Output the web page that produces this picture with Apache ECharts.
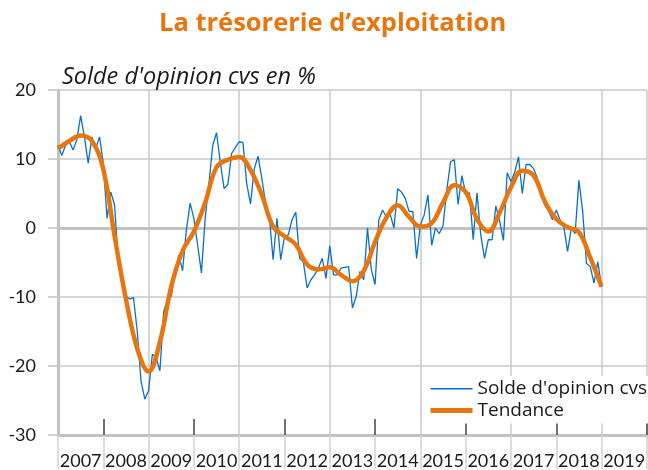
<!DOCTYPE html>
<html lang="fr">
<head>
<meta charset="UTF-8">
<title>La trésorerie d'exploitation</title>
<script src="https://cdn.jsdelivr.net/npm/echarts@6/dist/echarts.min.js"></script>
<style>
    html, body { margin: 0; padding: 0; background: #fff; }
    #chart { width: 648px; height: 470px; }
</style>
</head>
<body>
<div id="chart"></div>
<script>
    // années affichées sous l'axe
    var years = ['2007', '2008', '2009', '2010', '2011', '2012', '2013', '2014', '2015', '2016', '2017', '2018', '2019'];
    var startYear = 2007;

    // solde d'opinion cvs, mensuel (janv. 2007 -> janv. 2019)
    var solde = [
        12, 10.5, 12, 12.5, 11.3, 12.8, 16.3, 13.2, 9.4, 13.2, 11.5, 13.2,
        9.4, 1.4, 5.2, 3.3, -5.3, -7.7, -9.9, -10.3, -10.1, -15, -22.2, -24.8,
        -23.6, -18.3, -18.8, -20.7, -12.1, -10.4, -9.9, -6.5, -3.9, -6.2, -0.3, 3.6,
        1.4, -2.5, -6.5, 1.5, 6.5, 12, 13.8, 9.5, 5.7, 6.3, 10.8, 11.7,
        12.5, 12.4, 6.4, 3.5, 8.6, 10.4, 7.2, 3.6, 1.5, -4.6, 1.4, -4.6,
        -1.3, -1, 1.2, 2.3, -4.4, -4.9, -8.7, -7.5, -6.8, -5.8, -4.4, -7.3,
        -2.6, -6.8, -6.8, -5.8, -5.7, -5.6, -11.6, -9.9, -6.3, -7.5, 0, -6,
        -8.2, 1.2, 2.6, 1.6, 2, 0, 5.7, 5.2, 4.3, 2.4, 2.4, -4.4,
        0.4, 1.9, 4.8, -2.5, 0, -0.8, 0.3, 5.5, 9.6, 9.9, 3.4, 7.6,
        5, 5.1, -1.7, 5.1, -1, -4.4, -1.7, -1.7, 3.2, 1, -1.8, 8,
        6.7, 8.1, 10.3, 5, 9.2, 9.2, 8.6, 7.2, 5, 3.3, 2.4, 1.2,
        2.6, 1.2, 0.2, -3.4, 0, -0.8, 6.9, 2.4, -5.1, -5.6, -8, -4.9, -8.5
    ];

    // tendance, un point par trimestre
    var tendanceStep = 3;
    var tendance = [
        11.5, 12.6, 13.4, 12.6, 8.5, -1.2, -10.3, -17.5, -20.8, -16.5, -8.5, -3.3,
        -0.5, 3.7, 8.8, 9.9, 10.3, 8.4, 4.8, 0.2, -1.2, -2.4, -5.3, -6,
        -5.7, -6.8, -7.7, -6.2, -2, 1.5, 3.3, 1.6, 0.2, 0.7, 3.7, 6.2,
        5.2, 1.3, -0.5, 2.2, 5.9, 8.3, 7.6, 3.8, 1.3, 0.1, -0.6, -4.3, -8.5
    ];

    var chart = echarts.init(document.getElementById('chart'));

    var soldeData = solde.map(function (v, i) {
        return [startYear + i / 12, v];
    });
    var tendanceData = tendance.map(function (v, i) {
        return [startYear + (i * tendanceStep) / 12, v];
    });

    var blue = '#0a6fc8';
    var orange = '#e8760f';
    var gridGray = '#c8c8c8';
    var axisGray = '#c2c2c2';
    var wideFont = '"Open Sans", Lato, sans-serif';

    var option = {
        animation: false,
        textStyle: { fontFamily: 'Lato, "Noto Sans", sans-serif' },
        title: [
            {
                text: 'La trésorerie d\u2019exploitation',
                left: 154,
                top: 6,
                textStyle: { color: orange, fontSize: 25.5, fontWeight: 'bold', fontFamily: wideFont }
            },
            {
                text: "Solde d'opinion cvs en %",
                left: 57,
                top: 61,
                textStyle: { color: '#1a1a1a', fontSize: 23.5, fontWeight: 'normal', fontStyle: 'italic', fontFamily: wideFont }
            }
        ],
        legend: {
            orient: 'vertical',
            left: 424,
            top: 376,
            padding: [2, 8, 2, 4],
            itemGap: 0,
            itemWidth: 42,
            itemHeight: 14,
            backgroundColor: '#fff',
            itemStyle: { opacity: 0 },
            textStyle: { fontSize: 19, color: '#1a1a1a', lineHeight: 21.7, fontFamily: wideFont },
            data: [
                { name: "Solde d'opinion cvs", lineStyle: { width: 1.5, color: blue } },
                { name: 'Tendance', lineStyle: { width: 5, color: orange } }
            ]
        },
        grid: { left: 58, top: 90, width: 591, height: 346 },
        xAxis: [
            {
                // axe principal (séries), trait du bas
                type: 'value', min: 2007, max: 2020, interval: 1, position: 'bottom',
                axisLine: { onZero: false, lineStyle: { color: axisGray, width: 3 } },
                axisTick: { show: false },
                axisLabel: { show: false },
                splitLine: { show: false }
            },
            {
                // quadrillage vertical tous les deux ans
                type: 'value', min: 2007, max: 2020, interval: 2, position: 'bottom',
                axisLine: { show: false, onZero: false },
                axisTick: { show: false },
                axisLabel: { show: false },
                splitLine: { show: true, lineStyle: { color: gridGray, width: 1.5 } }
            },
            {
                // libellés des années + séparateurs sous l'axe
                type: 'category', data: years, boundaryGap: true, position: 'bottom',
                axisLine: { show: false, onZero: false },
                axisTick: { show: true, inside: false, length: 34, interval: 0, lineStyle: { color: '#d2d2d2', width: 1.5 } },
                axisLabel: { fontSize: 18, color: '#1a1a1a', margin: 17, interval: 0 },
                splitLine: { show: false }
            },
            {
                // petites graduations foncées vers l'intérieur
                type: 'category', data: years, boundaryGap: true, position: 'bottom',
                axisLine: { show: false, onZero: false },
                axisTick: {
                    show: true, inside: true, length: 16,
                    interval: function (i) { return i % 2 === 1; },
                    lineStyle: { color: '#444', width: 1.5 }
                },
                axisLabel: { show: false },
                splitLine: { show: false }
            },
            {
                // ligne du zéro
                type: 'value', min: 2007, max: 2020, position: 'bottom',
                axisLine: { show: true, onZero: true, lineStyle: { color: axisGray, width: 3 } },
                axisTick: { show: false },
                axisLabel: { show: false },
                splitLine: { show: false }
            }
        ],
        yAxis: {
            type: 'value', min: -30, max: 20, interval: 10,
            axisLine: { show: true, onZero: false, lineStyle: { color: axisGray, width: 3 } },
            axisTick: { show: true, length: 10, lineStyle: { color: axisGray, width: 1.5 } },
            axisLabel: { fontSize: 18, color: '#1a1a1a', margin: 22 },
            splitLine: { lineStyle: { color: gridGray, width: 1.5 } }
        },
        series: [
            {
                name: "Solde d'opinion cvs",
                type: 'line',
                xAxisIndex: 0,
                data: soldeData,
                symbol: 'none',
                lineStyle: { color: blue, width: 1.3 },
                itemStyle: { color: blue },
                z: 3
            },
            {
                name: 'Tendance',
                type: 'line',
                xAxisIndex: 0,
                data: tendanceData,
                smooth: 0.4,
                symbol: 'none',
                lineStyle: { color: orange, width: 4.5 },
                itemStyle: { color: orange },
                z: 4
            }
        ]
    };

    chart.setOption(option);
</script>
</body>
</html>
